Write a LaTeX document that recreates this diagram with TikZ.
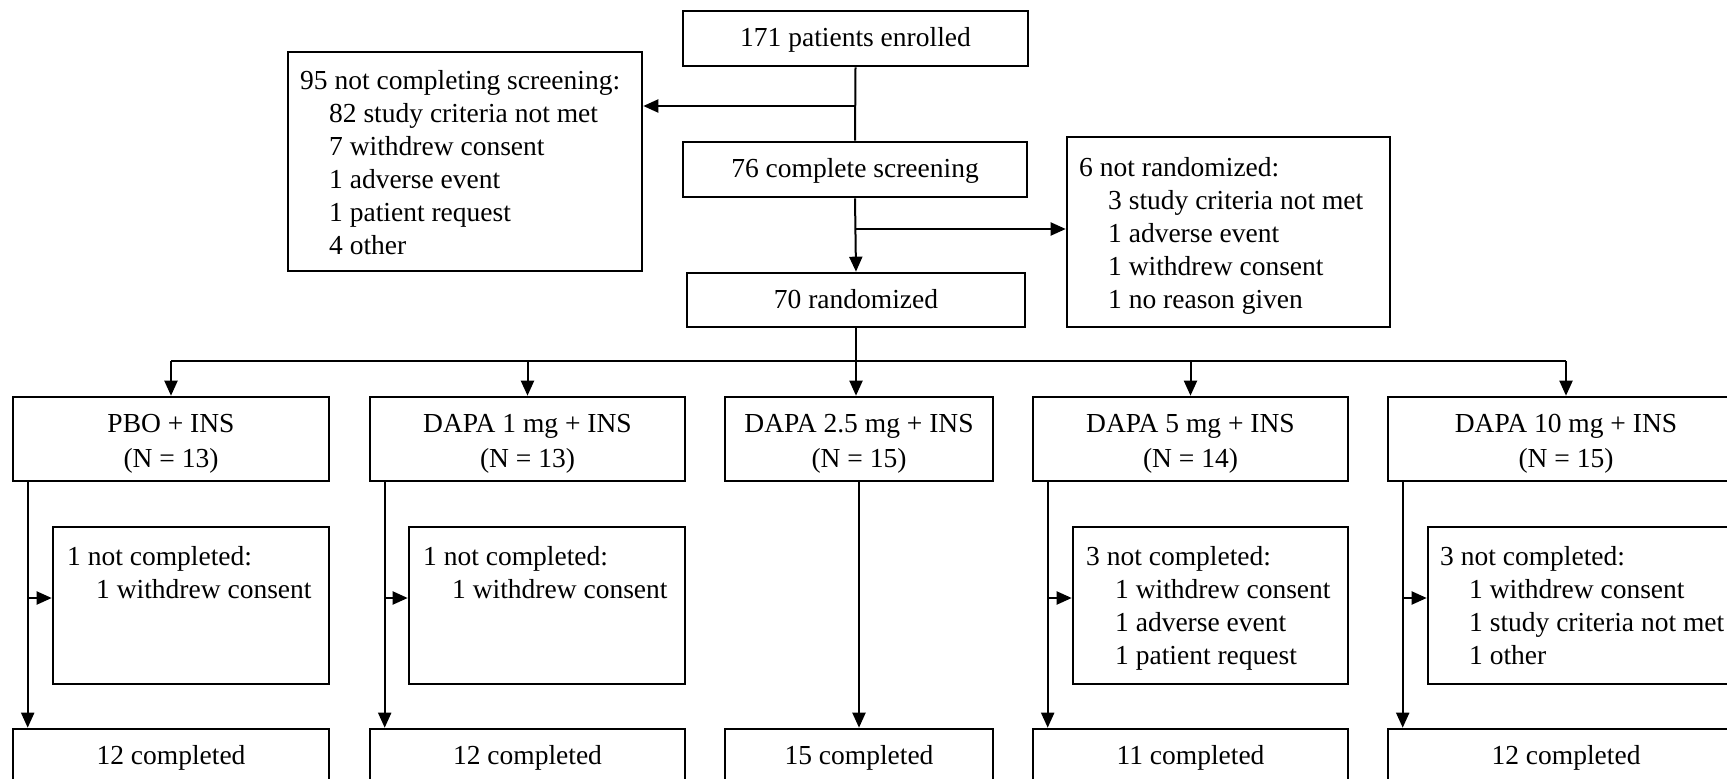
\documentclass[tikz,border=0pt]{standalone}
\usepackage{fontspec}
\setmainfont{Liberation Serif}
\usetikzlibrary{arrows.meta}

\newcommand{\ind}{\hspace*{29pt}}
\newcommand{\tall}{\rule{0pt}{28pt}}

\begin{document}
\begin{tikzpicture}[x=1pt, y=-1pt,
    box/.style={draw, line width=2.6pt, inner sep=0pt,
      font=\fontsize{27.5pt}{33pt}\selectfont},
    single/.style={box, text height=22pt, text depth=6pt},
    group/.style={box, align=center, minimum height=84pt,
      font=\fontsize{27.5pt}{35pt}\selectfont},
    list/.style={anchor=north west, inner sep=0pt, align=left,
      font=\fontsize{27.5pt}{33pt}\selectfont},
    link/.style={line width=2pt},
    >={Triangle[length=15pt, width=13pt]}]
  \useasboundingbox (0,0) rectangle (1727,779);
  \clip (0,0) rectangle (1727,779);
  % Screening
  \node[single, minimum width=345pt, minimum height=55pt] (enrol) at (855.5,38.5) {171 patients enrolled};
  \node[single, minimum width=344pt, minimum height=55pt] (screen) at (855,169.5) {76 complete screening};
  \node[single, minimum width=338pt, minimum height=54pt] (rand) at (856,300) {70 randomized};
  \node[box, minimum width=354pt, minimum height=219pt] (screenout) at (465,161.5) {};
  \node[list] (screenouttxt) at (300,70) {95 not completing screening:\\
    \ind 82 study criteria not met\\ \ind 7 withdrew consent\\
    \ind 1 adverse event\\ \ind 1 patient request\\ \ind 4 other};
  \node[box, minimum width=323pt, minimum height=190pt] (notrand) at (1228.5,232) {};
  \node[list] (notrandtxt) at (1079,157.5) {6 not randomized:\\
    \ind 3 study criteria not met\\ \ind 1 adverse event\\
    \ind 1 withdrew consent\\ \ind 1 no reason given};
  \coordinate (j1) at (855,106);
  \coordinate (j2) at (855,229);
  \draw[link] (enrol.south) -- (screen.north);
  \draw[link, ->] (j1) -- (j1 -| screenout.east);
  \draw[link, ->] (screen.south) -- (rand.north);
  \draw[link, ->] (j2) -- (j2 -| notrand.west);
  % Treatment groups
  \node[group, minimum width=316pt] (g1) at (171,439) {\tall PBO + INS\\(N = 13)};
  \node[group, minimum width=315pt] (g2) at (527.5,439) {\tall DAPA 1 mg + INS\\(N = 13)};
  \node[group, minimum width=268pt] (g3) at (859,439) {\tall DAPA 2.5 mg + INS\\(N = 15)};
  \node[group, minimum width=315pt] (g4) at (1190.5,439) {\tall DAPA 5 mg + INS\\(N = 14)};
  \node[group, minimum width=356pt] (g5) at (1566,439) {\tall DAPA 10 mg + INS\\(N = 15)};
  \coordinate (bus) at (856,361);
  \draw[link] (rand.south) -- (bus);
  \draw[link] (bus -| g1.north) -- (bus -| g5.north);
  \foreach \g in {g1,g2,g4,g5}
    \draw[link, ->] (bus -| \g.north) -- (\g.north);
  \draw[link, ->] (bus) -- (bus |- g3.north);
  % Not completed
  \node[box, minimum width=276pt, minimum height=157pt] (nc1) at (191,605.5) {};
  \node[list] (nc1txt) at (67,546.5) {1 not completed:\\ \ind 1 withdrew consent};
  \node[box, minimum width=276pt, minimum height=157pt] (nc2) at (547,605.5) {};
  \node[list] (nc2txt) at (423,546.5) {1 not completed:\\ \ind 1 withdrew consent};
  \node[box, minimum width=275pt, minimum height=157pt] (nc4) at (1210.5,605.5) {};
  \node[list] (nc4txt) at (1086,546.5) {3 not completed:\\ \ind 1 withdrew consent\\
    \ind 1 adverse event\\ \ind 1 patient request};
  \node[box, minimum width=316pt, minimum height=157pt] (nc5) at (1586,605.5) {};
  \node[list] (nc5txt) at (1440,546.5) {3 not completed:\\ \ind 1 withdrew consent\\
    \ind 1 study criteria not met\\ \ind 1 other};
  % Completed
  \node[single, minimum width=316pt, minimum height=55pt] (c1) at (171,756.5) {12 completed};
  \node[single, minimum width=315pt, minimum height=55pt] (c2) at (527.5,756.5) {12 completed};
  \node[single, minimum width=268pt, minimum height=55pt] (c3) at (859,756.5) {15 completed};
  \node[single, minimum width=315pt, minimum height=55pt] (c4) at (1190.5,756.5) {11 completed};
  \node[single, minimum width=356pt, minimum height=55pt] (c5) at (1566,756.5) {12 completed};
  \foreach \i in {1,2,4,5} {
    \coordinate (b\i) at ([xshift=16pt]g\i.south west);
    \draw[link, ->] (b\i) -- (b\i |- c\i.north);
    \draw[link, ->] (b\i |- 0,598) -- (nc\i.west |- 0,598);
  }
  \draw[link, ->] (g3.south) -- (c3.north);
\end{tikzpicture}
\end{document}
